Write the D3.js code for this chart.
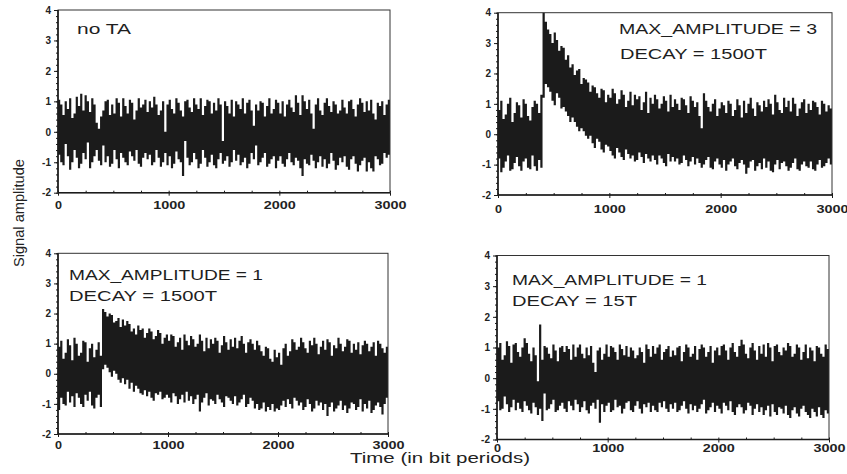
<!DOCTYPE html>
<html><head><meta charset="utf-8">
<script src="https://cdn.jsdelivr.net/npm/d3@7"></script>
<style>
body{margin:0;background:#fff}
svg{display:block}
text{font-family:"Liberation Sans",Arial,Helvetica,sans-serif}
</style>
</head><body>
<svg id="chart" width="847" height="474"></svg>
<script>
// ---------- DATA ----------
// Signal envelope per 20-bit-period bin (bin starts 0,20,...,2980): max and min of the signal in each bin
const binStarts = d3.range(0, 3000, 20);

// Panel 1: no TA
const noTAHi = [
 1.05,0.9,0.55,1.0,0.75,1.1,0.45,0.6,1.15,0.85,
 1.25,0.7,1.2,1.0,0.65,1.1,0.9,0.3,0.1,0.5,
 0.7,1.0,1.05,0.55,0.9,0.6,1.1,0.95,0.5,1.1,
 0.85,0.6,1.05,0.95,0.4,0.7,1.1,0.8,0.9,1.05,
 0.65,1.0,0.8,1.15,0.9,0.55,0.7,1.0,0.0,0.9,
 1.05,0.75,0.6,1.1,0.95,0.7,0.5,1.0,1.05,0.8,
 0.65,1.1,0.9,0.75,1.1,0.55,0.85,1.05,1.0,0.6,
 0.95,0.7,1.1,0.9,-0.3,1.0,0.85,0.6,1.05,0.5,
 1.0,0.9,0.75,1.1,0.6,0.95,1.05,0.7,0.2,0.9,
 0.7,1.0,0.95,0.5,0.85,1.1,0.6,0.75,1.05,0.95,
 0.6,1.0,0.5,0.9,1.05,0.8,0.65,1.2,0.95,0.55,
 1.2,1.0,0.75,1.05,0.6,0.1,0.9,1.1,0.7,0.55,
 0.95,1.1,0.85,0.65,1.0,0.9,0.6,0.7,1.05,0.8,
 0.6,1.0,1.05,0.75,0.5,0.9,1.1,0.95,0.65,1.0,
 0.7,1.05,0.6,0.4,0.95,0.85,1.0,0.55,0.9,1.05];
const noTALo = [
 -0.75,-1.0,-1.1,-0.4,-0.8,-1.25,-1.0,-0.6,-0.85,-1.2,
 -1.05,-0.7,-0.9,-0.35,-1.2,-1.0,-0.8,-0.6,-0.95,-1.1,
 -0.45,-1.0,-0.8,-1.15,-1.05,-0.6,-0.9,-1.2,-0.7,-0.85,
 -1.0,-1.1,-0.65,-0.8,-0.95,-0.6,-1.05,-1.15,-0.85,-0.7,
 -0.9,-0.75,-1.1,-1.0,-0.6,-0.85,-1.15,-1.0,-0.7,-1.1,
 -0.8,-1.2,-1.05,-0.65,-0.9,-1.0,-1.45,-0.3,-0.85,-1.1,
 -1.0,-0.7,-0.9,-1.2,-1.05,-0.6,-0.85,-1.15,-1.0,-0.75,
 -1.1,-1.2,-0.9,-0.7,-1.05,-0.95,-0.8,-1.15,-1.0,-0.6,
 -0.95,-0.75,-1.1,-1.0,-0.85,-1.2,-1.05,-0.7,-0.9,-0.45,
 -1.1,-1.0,-0.85,-0.7,-1.15,-1.05,-0.9,-0.8,-1.2,-0.95,
 -0.8,-1.05,-1.15,-0.9,-0.7,-1.0,-1.1,-0.85,-0.95,-1.2,
 -1.45,-0.9,-1.05,-1.1,-0.75,-0.95,-1.2,-1.0,-0.8,-1.15,
 -0.9,-1.2,-1.05,-0.7,-0.95,-1.25,-1.1,-0.85,-1.0,-0.8,
 -1.15,-1.25,-0.9,-0.8,-1.05,-1.3,-1.1,-0.95,-0.85,-1.3,
 -1.0,-1.2,-1.3,-0.8,-0.9,-1.1,-1.05,-0.7,-0.85,-0.75];

// Panel 2: MAX_AMPLITUDE = 3, DECAY = 1500T
const amp3Hi = [
 0.8,1.1,0.5,0.65,1.0,1.2,0.4,0.7,1.05,0.95,
 0.55,1.15,1.0,0.6,0.45,0.9,1.1,1.0,0.7,1.3,
 4.0,3.7,3.45,3.3,3.0,3.35,3.1,2.75,2.9,2.85,
 2.45,2.6,2.2,2.3,1.95,2.1,2.15,1.65,1.85,1.8,
 1.7,1.4,1.6,1.55,1.35,1.2,1.5,1.45,1.05,1.3,
 1.2,1.5,1.35,1.0,1.15,1.45,1.3,0.9,1.1,1.4,
 0.95,1.3,1.15,1.25,0.8,1.05,1.4,0.7,1.2,1.0,
 1.3,1.15,0.85,1.0,1.25,1.1,0.75,1.3,0.9,1.15,
 1.0,0.8,1.2,1.15,0.95,0.7,1.25,1.1,0.9,1.05,
 0.6,0.2,1.35,1.1,0.9,0.75,1.0,1.15,0.6,0.85,
 1.05,0.95,0.7,1.1,1.0,0.6,0.8,1.15,0.95,0.55,
 1.1,0.7,1.0,1.2,0.85,0.6,1.05,0.95,0.75,1.1,
 0.9,1.15,1.0,0.65,1.3,1.05,0.8,0.7,1.2,0.9,
 1.1,0.75,1.2,1.0,0.6,0.85,1.05,1.15,0.7,1.0,
 0.8,1.1,1.05,0.9,0.65,1.1,1.0,0.75,0.95,0.85];
const amp3Lo = [
 -0.8,-1.25,-1.1,-0.9,-0.7,-1.2,-1.15,-0.95,-0.75,-1.05,
 -1.2,-0.9,-0.8,-1.1,-1.15,-0.7,-1.05,-1.2,-0.85,-1.1,
 1.2,1.65,1.55,1.4,1.1,0.95,1.35,1.2,0.85,0.9,
 0.75,0.6,0.4,0.55,0.4,0.25,0.1,0.2,0.1,-0.05,
 -0.15,-0.05,-0.3,-0.45,-0.15,-0.25,-0.5,-0.6,-0.35,-0.4,
 -0.55,-0.7,-0.8,-0.45,-0.6,-0.75,-0.85,-0.5,-0.65,-0.8,
 -0.7,-0.9,-0.85,-0.6,-0.75,-0.95,-0.65,-0.8,-0.9,-0.7,
 -0.85,-1.0,-0.7,-0.8,-0.95,-1.05,-0.65,-0.9,-0.75,-0.9,
 -0.8,-1.0,-0.95,-0.7,-0.85,-1.05,-0.9,-0.75,-1.0,-0.8,
 -0.95,-1.1,-1.0,-0.85,-0.75,-1.1,-1.15,-0.9,-0.8,-1.0,
 -1.1,-0.85,-1.2,-1.0,-0.9,-0.8,-1.05,-1.15,-0.95,-0.85,
 -1.0,-1.3,-1.1,-0.9,-0.85,-1.2,-1.05,-0.95,-1.15,-0.8,
 -1.1,-0.9,-1.2,-1.25,-1.0,-0.85,-1.15,-0.95,-0.9,-1.05,
 -1.2,-1.1,-0.95,-0.8,-1.15,-1.2,-1.0,-0.9,-1.05,-1.1,
 -0.9,-1.15,-1.2,-1.0,-0.85,-1.1,-1.05,-0.95,-0.8,-1.0];

// Panel 3: MAX_AMPLITUDE = 1, DECAY = 1500T
const amp1LongHi = [
 0.9,1.1,0.5,0.7,1.15,0.95,0.45,1.2,1.0,0.6,
 0.7,1.1,1.05,0.4,0.85,1.0,0.55,0.8,1.05,0.6,
 2.15,2.05,1.9,2.0,1.95,1.7,1.75,1.85,1.55,1.8,
 1.6,1.75,1.65,1.4,1.5,1.3,1.6,1.45,1.5,1.2,
 1.35,1.5,1.4,1.15,1.25,1.45,1.35,1.0,1.2,1.3,
 1.1,1.3,1.25,0.9,1.05,1.2,0.8,1.3,1.1,0.95,
 1.25,1.15,0.9,1.0,1.3,1.1,0.75,1.2,0.85,1.15,
 1.0,1.2,1.1,0.7,0.95,1.25,1.05,0.8,1.15,0.9,
 1.2,0.85,1.1,1.25,1.0,0.7,1.05,1.15,1.0,0.8,
 1.1,0.95,0.75,0.6,0.9,0.85,0.5,0.4,0.8,0.55,
 0.7,0.3,0.85,1.0,0.6,0.75,1.15,1.05,0.8,0.9,
 1.2,1.05,0.85,0.7,1.1,0.95,1.2,1.0,0.65,0.9,
 1.1,0.8,1.15,1.05,0.6,0.95,0.85,1.2,1.0,0.75,
 0.9,1.15,1.1,0.7,1.0,0.8,1.05,0.65,0.95,1.1,
 1.0,0.75,0.9,1.05,0.6,1.1,1.0,0.85,0.7,0.9];
const amp1LongLo = [
 -1.2,-0.8,-1.0,-1.05,-0.6,-0.95,-0.75,-1.1,-0.65,-0.8,
 -1.0,-1.1,-0.7,-0.9,-0.6,-1.05,-1.15,-0.8,-0.7,-1.1,
 0.15,0.3,0.2,0.05,-0.1,0.1,0.0,-0.2,-0.3,-0.15,
 -0.35,-0.2,-0.5,-0.3,-0.6,-0.4,-0.5,-0.65,-0.7,-0.55,
 -0.75,-0.6,-0.8,-0.9,-0.65,-0.7,-0.6,-0.85,-0.8,-0.7,
 -0.8,-0.95,-0.65,-0.75,-1.0,-0.85,-0.7,-0.95,-0.6,-0.9,
 -0.75,-1.0,-0.85,-0.7,-1.25,-0.95,-0.8,-0.65,-1.05,-0.85,
 -0.9,-1.0,-0.7,-0.85,-0.95,-1.1,-0.75,-0.8,-0.9,-1.0,
 -0.75,-1.05,-0.95,-0.85,-0.7,-1.1,-1.0,-0.8,-0.9,-1.15,
 -1.0,-1.2,-1.15,-0.95,-1.25,-1.1,-1.2,-1.0,-1.25,-1.15,
 -1.2,-1.05,-0.9,-1.1,-0.85,-1.0,-1.15,-0.8,-0.9,-1.05,
 -0.95,-1.2,-1.1,-0.85,-1.0,-1.25,-1.15,-0.9,-1.05,-0.95,
 -1.2,-1.0,-1.4,-1.1,-0.95,-1.25,-1.15,-1.05,-0.9,-1.2,
 -1.05,-1.3,-1.15,-0.95,-1.0,-1.2,-1.1,-0.85,-1.25,-1.0,
 -1.15,-0.9,-1.3,-1.2,-1.05,-0.95,-1.1,-1.35,-1.0,-0.8];

// Panel 4: MAX_AMPLITUDE = 1, DECAY = 15T
const amp1ShortHi = [
 1.0,1.15,0.6,0.75,1.2,1.05,0.5,1.1,1.15,0.85,
 0.7,1.0,1.3,1.15,0.8,0.55,1.0,0.75,-0.1,1.75,
 0.6,1.05,1.0,0.8,0.65,1.1,0.9,0.55,1.0,1.05,
 0.85,1.05,0.95,0.6,1.1,0.7,1.0,1.1,0.8,0.65,
 1.0,0.75,1.05,0.5,0.2,0.9,1.0,0.6,0.8,1.1,
 0.7,1.05,1.0,0.85,0.6,1.1,0.95,0.75,1.05,0.7,
 1.0,0.9,0.65,0.75,1.0,0.85,0.5,1.1,0.95,0.7,
 1.05,0.8,1.0,1.1,0.6,0.85,0.95,1.05,0.7,0.9,
 0.75,1.0,1.05,0.55,0.85,1.1,1.0,0.7,0.8,1.05,
 0.6,0.95,1.1,1.0,0.7,0.85,1.05,0.5,0.9,1.0,
 0.75,1.05,1.1,0.9,0.6,1.0,1.15,0.85,0.7,1.05,
 1.25,1.1,0.8,0.65,1.0,1.15,0.9,0.6,1.05,0.8,
 1.1,0.7,1.15,1.0,0.55,1.05,1.1,0.85,0.75,1.0,
 0.9,1.15,1.05,0.7,0.8,1.1,1.0,0.6,0.85,1.1,
 0.65,1.0,0.9,0.55,1.05,1.0,0.8,0.7,1.1,0.95];
const amp1ShortLo = [
 -0.75,-1.05,-1.0,-0.6,-0.85,-1.1,-0.95,-0.7,-1.05,-0.8,
 -1.0,-1.1,-0.75,-0.9,-1.05,-1.15,-0.8,-0.95,-1.2,-1.0,
 -1.4,-0.5,-1.05,-1.0,-0.85,-0.7,-1.1,-1.05,-0.9,-0.8,
 -1.0,-1.1,-0.75,-0.9,-1.05,-0.7,-0.85,-1.1,-0.95,-0.75,
 -1.05,-1.15,-0.9,-0.8,-1.0,-0.7,-1.45,-0.85,-1.1,-0.9,
 -0.8,-1.1,-1.05,-0.7,-0.95,-0.9,-1.15,-1.0,-0.8,-0.75,
 -1.05,-1.1,-0.9,-0.75,-1.0,-1.15,-0.85,-0.95,-0.8,-1.1,
 -0.9,-1.05,-1.1,-0.8,-0.95,-0.75,-1.0,-1.1,-0.85,-1.0,
 -0.8,-1.1,-1.05,-0.9,-0.75,-1.0,-1.15,-0.85,-1.05,-0.9,
 -1.1,-1.0,-0.85,-0.7,-1.15,-1.05,-0.95,-0.8,-1.1,-0.9,
 -1.0,-1.15,-0.8,-0.9,-1.05,-0.75,-1.1,-1.2,-0.95,-0.85,
 -0.95,-1.15,-1.05,-0.8,-0.9,-1.2,-1.0,-0.85,-1.1,-0.95,
 -1.2,-1.05,-0.9,-1.25,-0.85,-1.1,-1.2,-0.95,-1.0,-1.15,
 -0.9,-1.2,-1.3,-1.05,-0.95,-1.15,-1.25,-1.0,-0.9,-1.1,
 -1.2,-1.3,-1.0,-1.1,-1.25,-0.95,-1.2,-1.3,-1.05,-1.15];

const yTickValues = [-2,-1,0,1,2,3,4];
const xTickValues = [0,1000,2000,3000];
const panelLabels = [
  ["no TA"],
  ["MAX_AMPLITUDE = 3","DECAY = 1500T"],
  ["MAX_AMPLITUDE = 1","DECAY = 1500T"],
  ["MAX_AMPLITUDE = 1","DECAY = 15T"]
];
const xTitle = "Time (in bit periods)";
const yTitle = "Signal amplitude";

// ---------- LAYOUT ----------
const layout = [
  {hi:noTAHi, lo:noTALo, x0:58, x1:390, yT:10, yB:192.7, xlab:16,
   text:[{x:77,y:34,len:54,fs:14}]},
  {hi:amp3Hi, lo:amp3Lo, x0:498, x1:832, yT:12.7, yB:195, xlab:17.5,
   text:[{x:619,y:34,len:198,fs:15},{x:620,y:59,len:147,fs:15}]},
  {hi:amp1LongHi, lo:amp1LongLo, x0:58, x1:388, yT:253.3, yB:434, xlab:14.5,
   text:[{x:69,y:279.5,len:194,fs:15},{x:69,y:300.5,len:148,fs:15}]},
  {hi:amp1ShortHi, lo:amp1ShortLo, x0:497, x1:829, yT:255.5, yB:439.5, xlab:12.5,
   text:[{x:512,y:285,len:195,fs:15},{x:512,y:306,len:125,fs:15}]}
];

const svg = d3.select("#chart");
const ink = "#1b1b1b";

layout.forEach((p, pi) => {
  const x = d3.scaleLinear().domain([0,3000]).range([p.x0,p.x1]);
  const y = d3.scaleLinear().domain([-2,4]).range([p.yB,p.yT]);
  const g = svg.append("g");

  const n = Math.min(binStarts.length, p.hi.length, p.lo.length);
  const rows = [];
  for (let i=0;i<n;i++) rows.push({t:binStarts[i], hi:p.hi[i], lo:p.lo[i]});
  rows.push({t:3000, hi:p.hi[n-1], lo:p.lo[n-1]});

  const area = d3.area()
    .x(d => x(d.t))
    .y0(d => y(Math.max(-2, d.lo)))
    .y1(d => y(Math.min(4, d.hi)))
    .curve(d3.curveStepAfter);
  g.append("path").datum(rows).attr("d", area).attr("fill", ink);

  // frame
  g.append("rect").attr("x",p.x0).attr("y",p.yT)
    .attr("width",p.x1-p.x0).attr("height",p.yB-p.yT)
    .attr("fill","none").attr("stroke","#333").attr("stroke-width",1);
  g.append("line").attr("x1",p.x0).attr("x2",p.x0).attr("y1",p.yT).attr("y2",p.yB)
    .attr("stroke",ink).attr("stroke-width",1.6);
  g.append("line").attr("x1",p.x0).attr("x2",p.x1).attr("y1",p.yB).attr("y2",p.yB)
    .attr("stroke",ink).attr("stroke-width",1.6);

  // y axis: major + minor
  const yMinor = g.append("g").attr("transform",`translate(${p.x0},0)`)
    .call(d3.axisLeft(y).tickValues(d3.range(-2,4.001,0.2)).tickSize(2).tickFormat(""));
  yMinor.select(".domain").remove();
  yMinor.selectAll("line").attr("stroke",ink);
  const yAx = g.append("g").attr("transform",`translate(${p.x0},0)`)
    .call(d3.axisLeft(y).tickValues(yTickValues).tickSize(4).tickPadding(3).tickFormat(d => String(d)));
  yAx.select(".domain").remove();
  yAx.selectAll("line").attr("stroke",ink);
  yAx.selectAll("text").attr("font-size",10).attr("font-weight","bold").attr("fill","#222")
    .attr("font-family",'"Liberation Sans",Arial,sans-serif');

  // x axis: minor inward, major with labels
  const xMinor = g.append("g").attr("transform",`translate(0,${p.yB})`)
    .call(d3.axisBottom(x).tickValues(d3.range(0,3001,250)).tickSize(-2).tickFormat(""));
  xMinor.select(".domain").remove();
  xMinor.selectAll("line").attr("stroke",ink);
  const xAx = g.append("g").attr("transform",`translate(0,${p.yB})`)
    .call(d3.axisBottom(x).tickValues(xTickValues).tickSize(3).tickFormat(d => String(d)));
  xAx.select(".domain").remove();
  xAx.selectAll("line").attr("stroke",ink);
  xAx.selectAll("text").attr("font-size",10).attr("font-weight","bold").attr("fill","#222")
    .attr("font-family",'"Liberation Sans",Arial,sans-serif')
    .attr("y", p.xlab).attr("dy",0)
    .attr("textLength", d => d === 0 ? 7 : 32).attr("lengthAdjust","spacingAndGlyphs");

  // annotations
  panelLabels[pi].forEach((s, k) => {
    const t = p.text[k];
    g.append("text").attr("x",t.x).attr("y",t.y).text(s)
      .attr("font-size",t.fs).attr("fill","#1e1e1e")
      .attr("textLength",t.len).attr("lengthAdjust","spacingAndGlyphs");
  });
});

// axis titles
svg.append("text").attr("transform","translate(24,213) rotate(-90)")
  .attr("text-anchor","middle").attr("font-size",14).attr("fill","#222")
  .attr("textLength",108).attr("lengthAdjust","spacingAndGlyphs").text(yTitle);
svg.append("text").attr("x",440).attr("y",463).attr("text-anchor","middle")
  .attr("font-size",14.5).attr("fill","#222")
  .attr("textLength",180).attr("lengthAdjust","spacingAndGlyphs").text(xTitle);
</script>
</body></html>
